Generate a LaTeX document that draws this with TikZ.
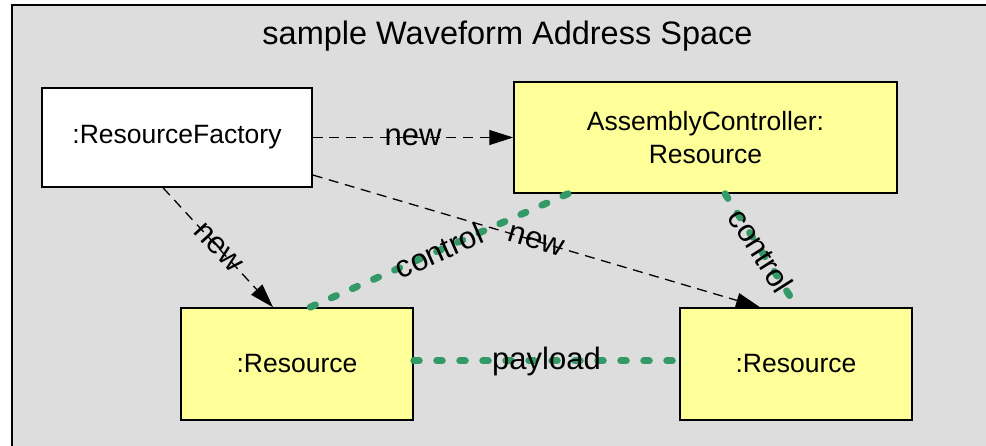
\documentclass[tikz,border=0pt]{standalone}
\usepackage{fontspec}
\setmainfont{Liberation Sans}
\usetikzlibrary{arrows.meta}

\definecolor{spacegray}{RGB}{221,221,221}
\definecolor{objyellow}{RGB}{255,255,153}
\definecolor{linkgreen}{RGB}{51,153,102}

\tikzset{
  objbox/.style={draw=black, line width=1.5pt, fill=objyellow, rectangle,
    inner sep=0pt, align=center, font=\fontsize{26.5}{32.7}\selectfont},
  factorybox/.style={objbox, fill=white},
  newlink/.style={draw=black, line width=1.3pt, dash pattern=on 10pt off 6.7pt,
    -{Triangle[length=24pt,width=15pt]}},
  ctrllink/.style={draw=linkgreen, line width=7pt, line cap=round,
    dash pattern=on 5.5pt off 17.5pt},
  linklabel/.style={font=\fontsize{31}{36}\selectfont, inner sep=0pt, text=black},
  titletext/.style={font=\fontsize{32.5}{38}\selectfont, inner sep=0pt},
}

\begin{document}
\begin{tikzpicture}[x=1pt, y=-1pt]
  \useasboundingbox (0,0) rectangle (986,446);

  % address space frame
  \fill[spacegray] (12,5) rectangle (990,450);
  \draw[line width=2pt] (12,450) -- (12,5) -- (990,5);
  \node[titletext, anchor=base] (title) at (507.5,45) {sample Waveform Address Space};

  % components
  \node[factorybox, minimum width=270pt, minimum height=99pt] (rf) at (177,137.5) {:ResourceFactory};
  \node[objbox, minimum width=383pt, minimum height=111pt] (ac) at (705.5,137.5) {AssemblyController:\\Resource};
  \node[objbox, minimum width=232pt, minimum height=112pt] (lr) at (297,364) {:Resource};
  \node[objbox, minimum width=232pt, minimum height=112pt] (rr) at (796,364) {:Resource};

  % creation links
  \draw[newlink] (rf.east) -- (ac.west)
    node[linklabel, midway] {new};
  \draw[newlink] ([xshift=-14pt]rf.south) -- ([xshift=-24pt]lr.north)
    node[linklabel, midway, sloped] {new};
  \draw[newlink] ([yshift=-37.5pt]rf.east) -- ([xshift=-36pt]rr.north)
    node[linklabel, midway, sloped] {new};

  % control and payload links
  \draw[ctrllink] ([xshift=-137.5pt]ac.south) -- ([xshift=13pt]lr.north)
    node[linklabel, midway, sloped] {control};
  \draw[ctrllink] ([xshift=19.5pt]ac.south) -- ([xshift=1pt]rr.north)
    node[linklabel, midway, sloped] {control};
  \draw[ctrllink] ([yshift=3pt]lr.east) -- ([yshift=3pt]rr.west)
    node[linklabel, midway] {payload};
\end{tikzpicture}
\end{document}
